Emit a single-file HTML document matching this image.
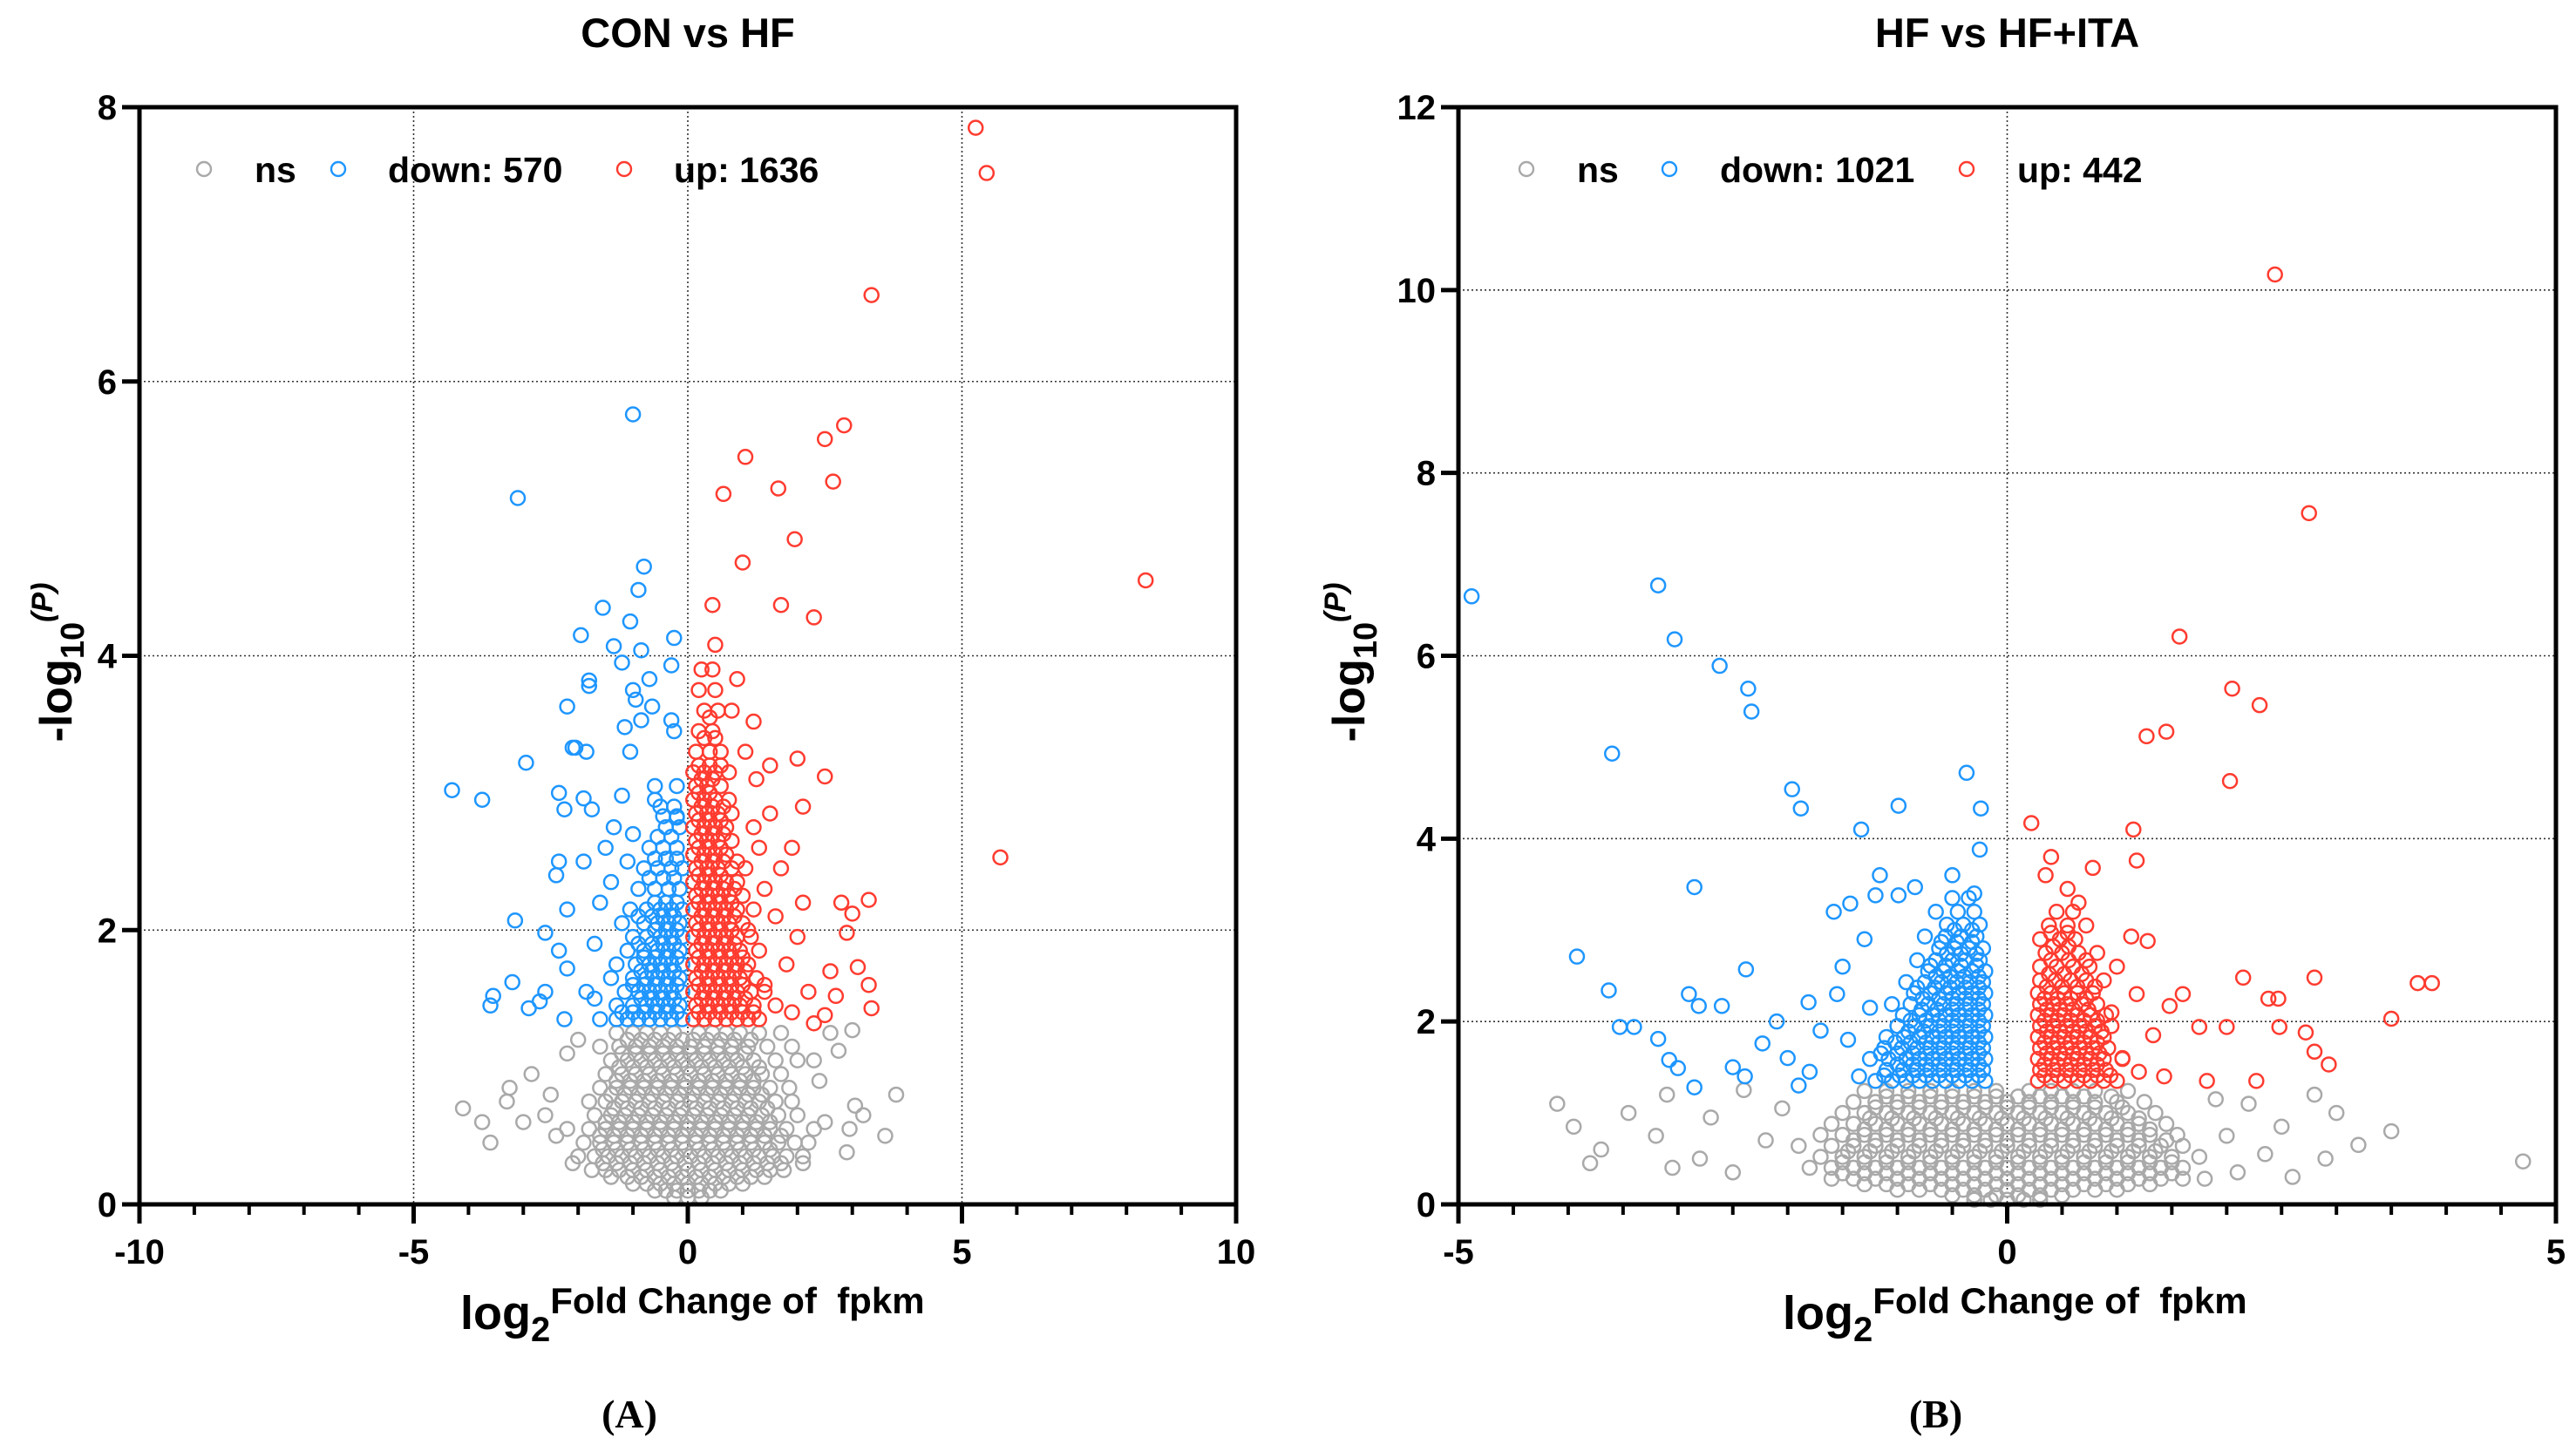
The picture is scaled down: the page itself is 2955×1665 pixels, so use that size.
<!DOCTYPE html>
<html><head><meta charset="utf-8"><style>
body{margin:0;background:#fff}
svg{display:block}
text{font-family:"Liberation Sans",Arial,sans-serif;font-weight:bold;fill:#000}
text.serif{font-family:"Liberation Serif",serif}
</style></head><body>
<svg id="fig" width="2955" height="1665" viewBox="0 0 2955 1665" xmlns="http://www.w3.org/2000/svg"></svg>
<script>
// ---------- Panel A data (CON vs HF) ----------
const ticksAx = [-10,-5,0,5,10];
const ticksAy = [0,2,4,6,8];
const upA = [[5.25,7.85],[5.45,7.52],[3.35,6.63],[8.35,4.55],[5.7,2.53],[2.85,5.68],[2.5,5.58],[1.05,5.45],[1.65,5.22],[2.65,5.27],[0.65,5.18],[1.95,4.85],[1.0,4.68],[0.45,4.37],[1.7,4.37],[2.3,4.28],[0.5,4.08],[0.9,3.83],[1.2,3.52],[1.5,3.2],[2.0,3.25],[2.5,3.12],[2.1,2.9],[1.5,2.85],[1.9,2.6],[3.3,2.22],[3.0,2.12],[2.8,2.2],[2.9,1.98],[2.6,1.7],[3.1,1.73],[3.3,1.6],[3.35,1.43],[2.7,1.52],[2.5,1.38],[2.3,1.32],[2.0,1.95],[2.2,1.55],[1.8,1.75],[1.6,2.1],[1.4,2.3],[1.7,2.45],[1.3,2.6],[1.2,2.75],[1.4,1.6],[1.9,1.4],[1.6,1.45],[2.1,2.2],[1.25,3.1],[1.05,3.3],[0.8,3.6]];
const upArows = [[1.35,[0.1,0.3,0.5,0.7,0.9,1.1,1.3]],[1.45,[0.15,0.35,0.55,0.75,0.95,1.2]],[1.55,[0.1,0.3,0.5,0.7,0.9,1.15,1.4]],[1.65,[0.15,0.35,0.55,0.75,0.95,1.25]],[1.75,[0.1,0.3,0.5,0.7,0.9,1.1]],[1.85,[0.15,0.35,0.55,0.75,0.95,1.3]],[1.95,[0.1,0.3,0.5,0.7,0.9,1.15]],[2.05,[0.15,0.35,0.55,0.75,1.0]],[2.15,[0.1,0.3,0.5,0.7,0.9,1.2]],[2.25,[0.15,0.35,0.55,0.75,1.0]],[2.35,[0.1,0.3,0.5,0.7,0.9]],[2.45,[0.15,0.35,0.55,0.8,1.05]],[2.55,[0.1,0.3,0.5,0.7]],[2.65,[0.15,0.35,0.55,0.8]],[2.75,[0.1,0.3,0.5,0.7]],[2.85,[0.15,0.35,0.55,0.8]],[2.95,[0.1,0.3,0.5,0.75]],[3.05,[0.15,0.35,0.6]],[3.15,[0.1,0.3,0.5,0.75]],[3.3,[0.15,0.4,0.6]],[3.45,[0.2,0.45]],[3.6,[0.3,0.55]],[3.75,[0.2,0.5]],[3.9,[0.25,0.45]]];
const upArows2 = [[1.4,[0.2,0.4,0.6,0.8,1.0,1.2]],[1.5,[0.25,0.45,0.65,0.85,1.05]],[1.6,[0.2,0.4,0.6,0.8,1.0]],[1.7,[0.25,0.45,0.65,0.85,1.05]],[1.8,[0.2,0.4,0.6,0.8,1.0]],[1.9,[0.25,0.45,0.65,0.85]],[2.0,[0.2,0.4,0.6,0.8,1.1]],[2.1,[0.25,0.45,0.65,0.85]],[2.2,[0.2,0.4,0.6,0.8]],[2.3,[0.25,0.45,0.65,0.85]],[2.4,[0.2,0.4,0.6]],[2.5,[0.25,0.45,0.65,0.9]],[2.6,[0.2,0.4,0.6]],[2.7,[0.25,0.45,0.65]],[2.8,[0.2,0.4,0.6]],[2.9,[0.25,0.45,0.65]],[3.0,[0.2,0.4]],[3.1,[0.25,0.45]],[3.2,[0.2,0.4,0.6]],[3.4,[0.3,0.5]],[3.55,[0.4]]];
const downA = [[-1.0,5.76],[-3.1,5.15],[-0.8,4.65],[-0.9,4.48],[-1.55,4.35],[-1.05,4.25],[-1.95,4.15],[-0.25,4.13],[-1.35,4.07],[-0.85,4.04],[-1.2,3.95],[-0.3,3.93],[-1.8,3.82],[-1.8,3.78],[-1.0,3.75],[-0.95,3.68],[-0.7,3.83],[-2.2,3.63],[-0.65,3.63],[-0.3,3.53],[-0.85,3.53],[-0.25,3.45],[-1.15,3.48],[-2.05,3.33],[-2.1,3.33],[-1.85,3.3],[-1.05,3.3],[-2.95,3.22],[-4.3,3.02],[-3.75,2.95],[-2.35,3.0],[-1.9,2.96],[-1.2,2.98],[-0.6,2.95],[-2.25,2.88],[-1.75,2.88],[-0.2,2.82],[-1.35,2.75],[-2.35,2.5],[-2.4,2.4],[-1.9,2.5],[-3.15,2.07],[-2.6,1.98],[-2.2,2.15],[-2.35,1.85],[-2.2,1.72],[-3.2,1.62],[-3.55,1.52],[-3.6,1.45],[-2.9,1.43],[-2.6,1.55],[-2.7,1.48],[-2.25,1.35],[-1.85,1.55],[-1.7,1.5],[-1.6,2.2],[-1.4,2.35],[-1.5,2.6],[-1.7,1.9],[-1.3,1.75],[-1.2,2.05],[-1.6,1.35],[-1.1,2.5],[-1.0,2.7]];
const downArows = [[1.35,[-0.1,-0.3,-0.5,-0.7,-0.9,-1.1,-1.3]],[1.45,[-0.15,-0.35,-0.55,-0.75,-1.0,-1.3]],[1.55,[-0.1,-0.3,-0.5,-0.7,-0.9,-1.15]],[1.65,[-0.15,-0.35,-0.55,-0.75,-1.0,-1.4]],[1.75,[-0.1,-0.3,-0.5,-0.7,-0.95]],[1.85,[-0.15,-0.35,-0.55,-0.8,-1.1]],[1.95,[-0.1,-0.3,-0.5,-0.75,-1.0]],[2.05,[-0.15,-0.35,-0.55,-0.8]],[2.15,[-0.1,-0.3,-0.5,-0.75,-1.05]],[2.3,[-0.15,-0.35,-0.6,-0.9]],[2.45,[-0.1,-0.3,-0.55,-0.8]],[2.6,[-0.2,-0.45,-0.7]],[2.75,[-0.15,-0.4]],[2.9,[-0.25,-0.5]],[3.05,[-0.2,-0.6]]];
const downArows2 = [[1.4,[-0.2,-0.4,-0.6,-0.8,-1.0,-1.2]],[1.5,[-0.25,-0.45,-0.65,-0.85]],[1.6,[-0.2,-0.4,-0.6,-0.8,-1.0]],[1.7,[-0.25,-0.45,-0.65,-0.85]],[1.8,[-0.2,-0.4,-0.6,-0.8]],[1.9,[-0.25,-0.45,-0.65,-0.9]],[2.0,[-0.2,-0.4,-0.6]],[2.1,[-0.25,-0.45,-0.65,-0.9]],[2.2,[-0.2,-0.4,-0.6]],[2.38,[-0.25,-0.45,-0.7]],[2.52,[-0.2,-0.4,-0.6]],[2.68,[-0.3,-0.55]],[2.83,[-0.2,-0.45]]];
const nsA = [[-4.1,0.7],[-3.75,0.6],[-3.6,0.45],[-3.25,0.85],[-3.3,0.75],[-3.0,0.6],[-2.85,0.95],[-2.6,0.65],[-2.4,0.5],[-2.5,0.8],[3.8,0.8],[3.6,0.5],[3.2,0.65],[2.95,0.55],[2.9,0.38],[3.05,0.72],[2.6,1.25],[3.0,1.27],[2.75,1.12],[2.4,0.9],[2.5,0.6],[2.2,0.45],[2.3,1.05],[-2.2,1.1],[-2.0,1.2],[2.1,0.3],[-2.1,0.3]];
const nsArows = [[0.05,[-0.25,0,0.25]],[0.15,[-1,-0.75,-0.5,-0.25,0,0.25,0.5,0.75,1]],[0.25,[-1.75,-1.5,-1.25,-1,-0.75,-0.5,-0.25,0,0.25,0.5,0.75,1,1.25,1.5,1.75]],[0.35,[-2,-1.7,-1.45,-1.2,-0.95,-0.7,-0.45,-0.2,0.05,0.3,0.55,0.8,1.05,1.3,1.55,1.8,2.1]],[0.45,[-1.9,-1.6,-1.35,-1.1,-0.85,-0.6,-0.35,-0.1,0.15,0.4,0.65,0.9,1.15,1.4,1.65,1.95]],[0.55,[-2.2,-1.8,-1.5,-1.25,-1,-0.75,-0.5,-0.25,0,0.25,0.5,0.75,1,1.25,1.5,1.8,2.3]],[0.65,[-1.7,-1.4,-1.15,-0.9,-0.65,-0.4,-0.15,0.1,0.35,0.6,0.85,1.1,1.35,1.65,2.0]],[0.75,[-1.8,-1.5,-1.2,-0.95,-0.7,-0.45,-0.2,0.05,0.3,0.55,0.8,1.05,1.3,1.6,1.9]],[0.85,[-1.6,-1.3,-1.05,-0.8,-0.55,-0.3,-0.05,0.2,0.45,0.7,0.95,1.2,1.5,1.85]],[0.95,[-1.5,-1.2,-0.95,-0.7,-0.45,-0.2,0.05,0.3,0.55,0.8,1.05,1.35,1.7]],[1.05,[-1.4,-1.1,-0.85,-0.6,-0.35,-0.1,0.15,0.4,0.65,0.9,1.2,1.6,2.0]],[1.15,[-1.6,-1.25,-0.95,-0.7,-0.45,-0.2,0.05,0.3,0.55,0.8,1.1,1.45,1.9]],[1.25,[-1.3,-1.0,-0.75,-0.5,-0.25,0.2,0.45,0.7,0.95,1.3,1.7]]];
const nsArows2 = [[0.1,[-0.6,-0.4,-0.2,0,0.2,0.4,0.6]],[0.2,[-1.4,-1.1,-0.85,-0.6,-0.35,-0.1,0.15,0.4,0.65,0.9,1.15,1.4]],[0.3,[-1.55,-1.3,-1.05,-0.8,-0.55,-0.3,-0.05,0.2,0.45,0.7,0.95,1.2,1.45,1.7]],[0.4,[-1.55,-1.3,-1.05,-0.8,-0.55,-0.3,-0.05,0.2,0.45,0.7,0.95,1.2,1.5]],[0.5,[-1.6,-1.35,-1.1,-0.85,-0.6,-0.35,-0.1,0.15,0.4,0.65,0.9,1.15,1.4,1.7]],[0.6,[-1.5,-1.25,-1.0,-0.75,-0.5,-0.25,0,0.25,0.5,0.75,1.0,1.25,1.5]],[0.7,[-1.35,-1.1,-0.85,-0.6,-0.35,-0.1,0.15,0.4,0.65,0.9,1.15,1.45]],[0.8,[-1.4,-1.15,-0.9,-0.65,-0.4,-0.15,0.1,0.35,0.6,0.85,1.1,1.35]],[0.9,[-1.3,-1.05,-0.8,-0.55,-0.3,-0.05,0.2,0.45,0.7,0.95,1.2]],[1.0,[-1.25,-1.0,-0.75,-0.5,-0.25,0,0.25,0.5,0.75,1.0,1.3]],[1.1,[-1.2,-0.95,-0.7,-0.45,-0.2,0.05,0.3,0.55,0.8,1.05]],[1.2,[-1.1,-0.85,-0.6,-0.35,-0.1,0.1,0.35,0.6,0.85,1.15]]];

// ---------- Panel B data (HF vs HF+ITA) ----------
const ticksBx = [-5,0,5];
const ticksBy = [0,2,4,6,8,10,12];
const upB = [[2.44,10.17],[2.75,7.56],[1.57,6.21],[2.05,5.64],[2.3,5.46],[1.45,5.17],[1.27,5.12],[2.03,4.63],[0.22,4.17],[1.15,4.1],[1.18,3.76],[0.78,3.68],[3.87,2.42],[3.74,2.42],[3.5,2.03],[2.8,2.48],[2.47,2.25],[2.38,2.25],[2.15,2.48],[2.0,1.94],[2.72,1.88],[2.93,1.53],[2.48,1.94],[2.8,1.67],[2.27,1.35],[1.82,1.35],[1.43,1.4],[1.75,1.94],[1.33,1.85],[1.18,2.3],[1.6,2.3],[1.48,2.17],[1.28,2.88],[1.13,2.93],[1.0,2.6],[1.05,1.6],[1.2,1.45],[0.95,2.1],[0.55,3.45],[0.4,3.8],[0.35,3.6],[0.65,3.3]];
const upBrows = [[1.35,[0.28,0.4,0.52,0.64,0.76,0.88,1.0]],[1.47,[0.3,0.42,0.54,0.66,0.78,0.9]],[1.59,[0.28,0.4,0.52,0.64,0.76,0.88,1.05]],[1.71,[0.3,0.42,0.54,0.66,0.78,0.92]],[1.83,[0.28,0.4,0.52,0.64,0.76,0.88]],[1.95,[0.3,0.42,0.54,0.66,0.8,0.95]],[2.07,[0.28,0.4,0.52,0.64,0.76,0.9]],[2.19,[0.3,0.42,0.54,0.68,0.82]],[2.31,[0.28,0.4,0.52,0.64,0.78]],[2.45,[0.3,0.44,0.58,0.72,0.88]],[2.6,[0.3,0.45,0.6,0.75]],[2.75,[0.35,0.5,0.65,0.82]],[2.9,[0.3,0.48,0.62]],[3.05,[0.38,0.55,0.72]],[3.2,[0.45,0.6]]];
const upBrows2 = [[1.41,[0.34,0.46,0.58,0.7,0.82,0.94]],[1.53,[0.34,0.46,0.58,0.7,0.82]],[1.65,[0.36,0.48,0.6,0.72,0.84]],[1.77,[0.34,0.46,0.58,0.7,0.82]],[1.89,[0.36,0.48,0.6,0.72,0.86]],[2.01,[0.34,0.46,0.58,0.7,0.82]],[2.13,[0.36,0.48,0.6,0.74]],[2.25,[0.34,0.46,0.58,0.72]],[2.38,[0.36,0.5,0.64,0.8]],[2.52,[0.38,0.52,0.68]],[2.67,[0.4,0.56,0.72]],[2.82,[0.42,0.56]],[2.97,[0.4,0.55]]];
const downB = [[-4.88,6.65],[-3.18,6.77],[-3.03,6.18],[-2.62,5.89],[-2.36,5.64],[-2.33,5.39],[-3.6,4.93],[-0.37,4.72],[-0.24,4.33],[-0.99,4.36],[-1.88,4.33],[-1.96,4.54],[-1.33,4.1],[-1.16,3.6],[-0.25,3.88],[-2.85,3.47],[-3.92,2.71],[-3.63,2.34],[-2.9,2.3],[-2.81,2.17],[-2.6,2.17],[-2.38,2.57],[-3.53,1.94],[-3.4,1.94],[-3.18,1.81],[-3.08,1.58],[-3.0,1.49],[-2.85,1.28],[-2.39,1.4],[-2.23,1.76],[-1.81,2.21],[-1.58,3.2],[-1.43,3.29],[-1.2,3.38],[-0.99,3.38],[-0.84,3.47],[-2.0,1.6],[-1.8,1.45],[-1.7,1.9],[-2.1,2.0],[-1.5,2.6],[-1.3,2.9],[-1.9,1.3],[-2.5,1.5],[-1.35,1.4],[-1.45,1.8],[-1.25,2.15],[-1.55,2.3],[-0.5,3.6],[-0.3,3.4]];
const downBrows = [[1.35,[-0.2,-0.32,-0.44,-0.56,-0.68,-0.8,-0.92,-1.05,-1.2]],[1.47,[-0.22,-0.34,-0.46,-0.58,-0.7,-0.82,-0.95,-1.1]],[1.59,[-0.2,-0.32,-0.44,-0.56,-0.68,-0.8,-0.92,-1.08,-1.25]],[1.71,[-0.22,-0.34,-0.46,-0.58,-0.7,-0.82,-0.96,-1.12]],[1.83,[-0.2,-0.32,-0.44,-0.56,-0.68,-0.8,-0.94,-1.1]],[1.95,[-0.22,-0.34,-0.46,-0.58,-0.7,-0.84,-1.0]],[2.07,[-0.2,-0.32,-0.44,-0.56,-0.68,-0.8,-0.95]],[2.19,[-0.22,-0.34,-0.46,-0.58,-0.72,-0.88,-1.05]],[2.31,[-0.2,-0.32,-0.44,-0.56,-0.7,-0.85]],[2.43,[-0.22,-0.34,-0.46,-0.6,-0.75,-0.92]],[2.55,[-0.2,-0.32,-0.45,-0.58,-0.72]],[2.67,[-0.25,-0.38,-0.5,-0.65,-0.82]],[2.8,[-0.22,-0.35,-0.48,-0.62]],[2.93,[-0.28,-0.42,-0.56,-0.75]],[3.06,[-0.25,-0.4,-0.55]],[3.2,[-0.3,-0.45,-0.65]],[3.35,[-0.35,-0.5]]];
const downBrows2 = [[1.41,[-0.26,-0.38,-0.5,-0.62,-0.74,-0.86,-0.98,-1.12]],[1.53,[-0.26,-0.38,-0.5,-0.62,-0.74,-0.86,-1.0]],[1.65,[-0.26,-0.38,-0.5,-0.62,-0.74,-0.86,-1.0,-1.15]],[1.77,[-0.26,-0.38,-0.5,-0.62,-0.74,-0.88,-1.02]],[1.89,[-0.26,-0.38,-0.5,-0.62,-0.76,-0.9]],[2.01,[-0.26,-0.38,-0.5,-0.62,-0.74,-0.88]],[2.13,[-0.26,-0.38,-0.5,-0.64,-0.78]],[2.25,[-0.26,-0.38,-0.5,-0.62,-0.77]],[2.37,[-0.26,-0.38,-0.52,-0.66,-0.82]],[2.49,[-0.26,-0.39,-0.52,-0.65]],[2.61,[-0.28,-0.42,-0.56,-0.7]],[2.74,[-0.28,-0.42,-0.55]],[2.87,[-0.32,-0.46,-0.6]],[3.0,[-0.32,-0.48]]];
const nsB = [[-4.1,1.1],[-3.95,0.85],[-3.8,0.45],[-3.7,0.6],[-3.45,1.0],[-3.2,0.75],[-3.05,0.4],[-3.1,1.2],[-2.8,0.5],[-2.7,0.95],[-2.5,0.35],[-2.4,1.25],[-2.2,0.7],[-2.05,1.05],[4.7,0.47],[3.5,0.8],[3.2,0.65],[3.0,1.0],[2.9,0.5],[2.8,1.2],[2.6,0.3],[2.5,0.85],[2.35,0.55],[2.2,1.1],[2.1,0.35],[2.0,0.75],[1.9,1.15]];
const nsBrows = [[0.05,[-0.3,-0.15,0,0.15,0.3]],[0.16,[-1.0,-0.8,-0.6,-0.4,-0.2,0,0.2,0.4,0.6,0.8,1.0]],[0.28,[-1.6,-1.4,-1.2,-1.0,-0.8,-0.6,-0.4,-0.2,0,0.2,0.4,0.6,0.8,1.0,1.2,1.4,1.6,1.8]],[0.4,[-1.8,-1.6,-1.4,-1.2,-1.0,-0.8,-0.6,-0.4,-0.2,0,0.2,0.4,0.6,0.8,1.0,1.2,1.4,1.6]],[0.52,[-1.7,-1.5,-1.3,-1.1,-0.9,-0.7,-0.5,-0.3,-0.1,0.1,0.3,0.5,0.7,0.9,1.1,1.3,1.5,1.75]],[0.64,[-1.9,-1.6,-1.4,-1.2,-1.0,-0.8,-0.6,-0.4,-0.2,0,0.2,0.4,0.6,0.8,1.0,1.2,1.4,1.6]],[0.76,[-1.7,-1.5,-1.3,-1.1,-0.9,-0.7,-0.5,-0.3,-0.1,0.1,0.3,0.5,0.7,0.9,1.1,1.3,1.55]],[0.88,[-1.6,-1.4,-1.2,-1.0,-0.8,-0.6,-0.4,-0.2,0,0.2,0.4,0.6,0.8,1.0,1.2,1.45]],[1.0,[-1.5,-1.3,-1.1,-0.9,-0.7,-0.5,-0.3,-0.1,0.1,0.3,0.5,0.7,0.9,1.1,1.35]],[1.12,[-1.4,-1.2,-1.0,-0.8,-0.6,-0.4,-0.2,0,0.2,0.4,0.6,0.8,1.0,1.25]],[1.24,[-1.3,-1.1,-0.9,-0.7,-0.5,-0.3,-0.1,0.2,0.4,0.6,0.8,1.1]]];
const nsBrows2 = [[0.1,[-0.5,-0.3,-0.1,0.1,0.3,0.5]],[0.22,[-1.3,-1.1,-0.9,-0.7,-0.5,-0.3,-0.1,0.1,0.3,0.5,0.7,0.9,1.1,1.3]],[0.34,[-1.5,-1.3,-1.1,-0.9,-0.7,-0.5,-0.3,-0.1,0.1,0.3,0.5,0.7,0.9,1.1,1.3,1.5]],[0.46,[-1.5,-1.3,-1.1,-0.9,-0.7,-0.5,-0.3,-0.1,0.1,0.3,0.5,0.7,0.9,1.1,1.3,1.5]],[0.58,[-1.45,-1.25,-1.05,-0.85,-0.65,-0.45,-0.25,-0.05,0.15,0.35,0.55,0.75,0.95,1.15,1.35]],[0.7,[-1.4,-1.2,-1.0,-0.8,-0.6,-0.4,-0.2,0,0.2,0.4,0.6,0.8,1.0,1.2,1.45]],[0.82,[-1.3,-1.1,-0.9,-0.7,-0.5,-0.3,-0.1,0.1,0.3,0.5,0.7,0.9,1.1,1.3]],[0.94,[-1.25,-1.05,-0.85,-0.65,-0.45,-0.25,-0.05,0.15,0.35,0.55,0.75,0.95,1.2]],[1.06,[-1.2,-1.0,-0.8,-0.6,-0.4,-0.2,0,0.2,0.4,0.6,0.8,1.05]],[1.18,[-1.1,-0.9,-0.7,-0.5,-0.3,-0.1,0.1,0.3,0.5,0.7,0.95]]];

const NS='http://www.w3.org/2000/svg';
const svg=document.getElementById('fig');
function mk(tag,attrs,parent){const e=document.createElementNS(NS,tag);for(const k in attrs)e.setAttribute(k,attrs[k]);(parent||svg).appendChild(e);return e;}
function txt(s,attrs,parent){const e=mk('text',attrs,parent);e.textContent=s;return e;}
function expand(pts,rowsA,rowsB){const out=pts.slice();rowsA.concat(rowsB).forEach(r=>r[1].forEach(x=>out.push([x,r[0]])));return out;}

function panel(cfg){
  const g=mk('g',{});
  
  
  const L=cfg.L,R=cfg.R,T=123,B=1382;
  const sx=v=>L+(v-cfg.xmin)/(cfg.xmax-cfg.xmin)*(R-L);
  const sy=v=>B-(v-cfg.ymin)/(cfg.ymax-cfg.ymin)*(B-T);
  cfg.gridY.forEach(v=>{const l=mk('line',{x1:L,x2:R,y1:sy(v),y2:sy(v),stroke:'#333','stroke-width':1.6,'stroke-dasharray':'2 3'},g);
    
    });
  cfg.gridX.forEach(v=>{const l=mk('line',{x1:sx(v),x2:sx(v),y1:T,y2:B,stroke:'#333','stroke-width':1.6,'stroke-dasharray':'2 3'},g);
    
    });
  const series=[['ns-point','#a9a9a9',expand(cfg.ns,cfg.nsRows,cfg.nsRows2)],['down-point','#1e96ff',expand(cfg.down,cfg.downRows,cfg.downRows2)],['up-point','#ff3b2f',expand(cfg.up,cfg.upRows,cfg.upRows2)]];
  series.forEach(s=>{s[2].forEach(p=>{const c=mk('circle',{cx:sx(p[0]),cy:sy(p[1]),r:8,fill:'none',stroke:s[1],'stroke-width':2.5},g);
    
    });});
  const f=mk('rect',{x:L,y:T,width:R-L,height:B-T,fill:'none',stroke:'#000','stroke-width':5},g);
  
  
  cfg.yticks.forEach(v=>{mk('line',{x1:L-20,x2:L,y1:sy(v),y2:sy(v),stroke:'#000','stroke-width':5},g);
    const t=txt(String(v),{x:L-26,y:sy(v)+14,'font-size':40,'text-anchor':'end'},g);
    
    });
  cfg.xticks.forEach(v=>{mk('line',{x1:sx(v),x2:sx(v),y1:B,y2:B+22,stroke:'#000','stroke-width':5},g);
    const t=txt(String(v),{x:sx(v),y:1450,'font-size':40,'text-anchor':'middle'},g);
    
    });
  for(let v=cfg.xmin;v<=cfg.xmax+1e-9;v+=cfg.minor){mk('line',{x1:sx(v),x2:sx(v),y1:B,y2:B+12,stroke:'#000','stroke-width':4},g);}
  const ti=txt(cfg.title,{x:(L+R)/2,y:54,'font-size':47,'text-anchor':'middle'},g);
  
  
  const leg=mk('g',{},g);
  
  
  cfg.legend.forEach(e=>{mk('circle',{cx:e[0],cy:194,r:8,fill:'none',stroke:e[1],'stroke-width':2.4},leg);
    const t=txt(e[2],{x:e[3],y:209,'font-size':41},leg);
    
    });
  const yl=txt('',{transform:`translate(${cfg.ylx},760) rotate(-90)`,'font-size':52,'text-anchor':'middle'},g);
  
  
  yl.innerHTML='-log<tspan font-size="38" dy="14">10</tspan><tspan font-size="34" dy="-36" font-style="italic">(P)</tspan>';
  const xl=txt('',{x:cfg.xlx,y:1525,'font-size':54},g);
  
  
  xl.innerHTML='log<tspan font-size="40" dy="14">2</tspan><tspan font-size="42" dy="-32" xml:space="preserve">Fold Change of  fpkm</tspan>';
  const pl=txt(cfg.letter,{x:(L+R)/2+cfg.letterDx,y:1638,'font-size':46,'text-anchor':'middle','class':'serif'},g);
  
  
}

panel({name:'panel-a',L:160,R:1418,xmin:-10,xmax:10,ymin:0,ymax:8,xticks:ticksAx,yticks:ticksAy,minor:1,gridY:[2,4,6],gridX:[-5,0,5],
  ns:nsA,nsRows:nsArows,nsRows2:nsArows2,down:downA,downRows:downArows,downRows2:downArows2,up:upA,upRows:upArows,upRows2:upArows2,title:'CON vs HF',
  legend:[[234,'#a9a9a9','ns',292],[388,'#1e96ff','down: 570',445],[716,'#ff3b2f','up: 1636',773]],ylx:82,xlx:528,letter:'(A)',letterDx:-67});
panel({name:'panel-b',L:1673,R:2932,xmin:-5,xmax:5,ymin:0,ymax:12,xticks:ticksBx,yticks:ticksBy,minor:0.5,gridY:[2,4,6,8,10],gridX:[0],
  ns:nsB,nsRows:nsBrows,nsRows2:nsBrows2,down:downB,downRows:downBrows,downRows2:downBrows2,up:upB,upRows:upBrows,upRows2:upBrows2,title:'HF vs HF+ITA',
  legend:[[1751,'#a9a9a9','ns',1809],[1915,'#1e96ff','down: 1021',1973],[2256,'#ff3b2f','up: 442',2314]],ylx:1565,xlx:2045,letter:'(B)',letterDx:-82});
</script>
</body></html>
